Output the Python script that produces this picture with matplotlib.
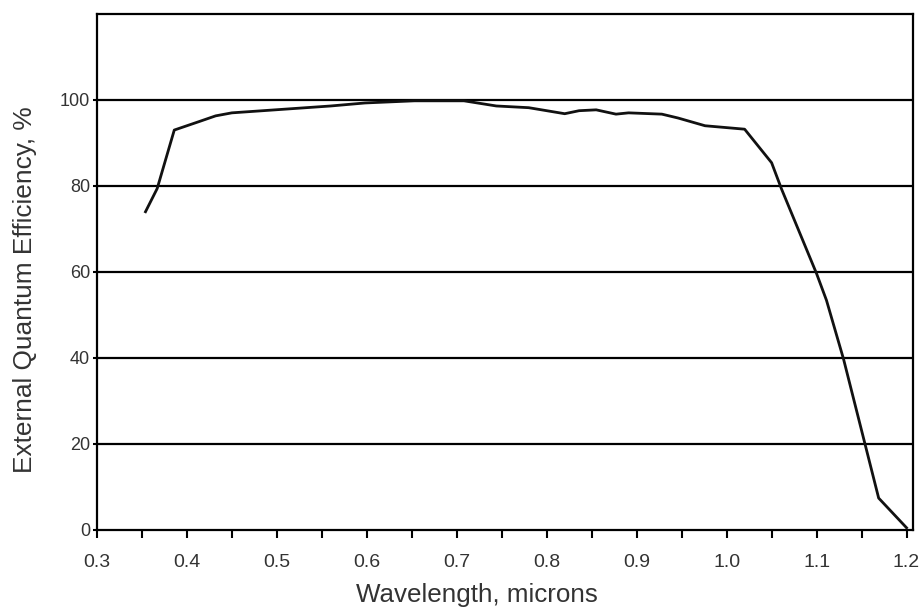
import matplotlib.pyplot as plt
from matplotlib.ticker import MultipleLocator

# wavelength (microns) and external quantum efficiency (%)
wavelength = [0.354, 0.367, 0.386, 0.414, 0.432, 0.45, 0.505, 0.56, 0.598, 0.653,
              0.708, 0.744, 0.78, 0.82, 0.836, 0.855, 0.877, 0.891, 0.928, 0.946,
              0.976, 1.02, 1.05, 1.061, 1.10, 1.111, 1.130, 1.155, 1.169, 1.200]
eqe = [74, 79.4, 93, 95, 96.3, 97, 97.8, 98.6, 99.3, 99.8,
       99.8, 98.6, 98.2, 96.8, 97.5, 97.7, 96.7, 97, 96.7, 95.8,
       94, 93.2, 85.4, 79.3, 59.6, 53.4, 39.7, 19, 7.4, 0.5]
y_ticks = [0, 20, 40, 60, 80, 100]
x_labels = [0.3, 0.4, 0.5, 0.6, 0.7, 0.8, 0.9, 1.0, 1.1, 1.2]

plt.rcParams['font.family'] = ['Liberation Sans', 'DejaVu Sans']

fig = plt.figure(figsize=(9.23, 6.07), dpi=100)
ax = fig.add_axes([0.105, 0.127, 0.884, 0.850])

# горизонтальная сетка
for y in y_ticks[1:]:
    ax.axhline(y, color='black', lw=1.6, zorder=1)

ax.plot(wavelength, eqe, color='#111111', lw=2.0, zorder=3)

ax.set_xlim(0.3, 1.207)
ax.set_ylim(0, 120)
ax.set_xticks(x_labels)
ax.set_xticklabels([f'{v:.1f}' for v in x_labels])
ax.xaxis.set_minor_locator(MultipleLocator(0.05))
ax.set_yticks(y_ticks)

for s in ax.spines.values():
    s.set_linewidth(1.6)
    s.set_color('black')

ax.tick_params(axis='x', which='both', direction='out', length=6, width=1.5,
               labelsize=14, pad=11, labelcolor='#333333')
ax.tick_params(axis='y', direction='out', length=3, width=1.5,
               labelsize=13, pad=2, labelcolor='#333333')

ax.set_xlabel('Wavelength, microns', fontsize=18.7, color='#333333',
              va='center', ha='center')
ax.xaxis.set_label_coords(0.466, -0.126)
ax.set_ylabel('External Quantum Efficiency, %', fontsize=18.9, color='#333333',
              va='center', ha='center')
ax.yaxis.set_label_coords(-0.088, 0.465)

fig.savefig('out.png', dpi=100)
